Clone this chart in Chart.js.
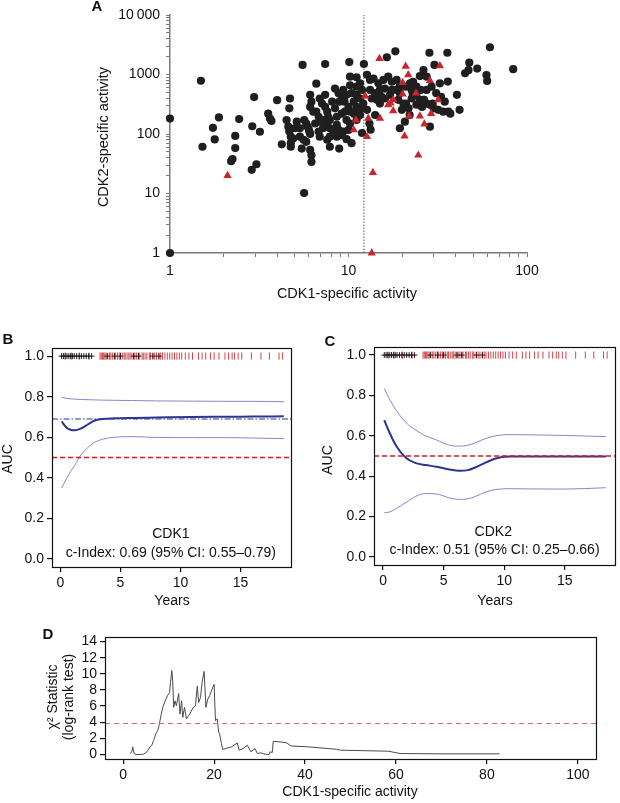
<!DOCTYPE html>
<html>
<head>
<meta charset="utf-8">
<script src="https://cdn.jsdelivr.net/npm/chart.js@4.4.1/dist/chart.umd.min.js"></script>
<style>
  html, body { margin: 0; padding: 0; background: #fff; }
  #wrap { position: relative; width: 620px; height: 803px; overflow: hidden; }
  #wrap canvas { position: absolute; left: 0; top: 0; }
</style>
</head>
<body>
<div id="wrap">
  <canvas id="chartA" width="620" height="803"></canvas>
  <canvas id="chartB" width="620" height="803"></canvas>
  <canvas id="chartC" width="620" height="803"></canvas>
  <canvas id="chartD" width="620" height="803"></canvas>
</div>
<script>
// --- A: scatter CDK1 vs CDK2 specific activity ---
const blackX = [1, 1, 1.49, 1.52, 1.74, 1.78, 1.88, 2.32, 2.32, 2.44, 2.24, 2.2, 2.87, 3.05, 2.96, 2.89, 3.19, 3.55, 3.63, 3.7, 3.98, 4.23, 5.64,
  45, 47, 47.5, 52.6, 59.3, 59.8, 62, 83.7,
  18.3, 16.4, 28.4, 35.8, 5.53, 7.4, 10.1, 12.2, 30.3, 26.3, 25.1, 22.1, 10.2, 11.1, 12.7, 13.2, 6.6,
  4.7, 4.66, 4.5, 4.6, 4.66, 4.75, 4.75, 4.75,
  6.1, 6.2, 6.1, 5.65, 5.8, 5.9, 6.0, 6.05, 6.1,
  5.34, 5.6, 5.8, 5.47, 6.1, 6.2, 6.2,
  7.6, 7.86, 8.87, 10.4, 9.75,
  6.9, 7.1, 7.4, 7.6, 7.7, 7.2, 7.6, 7.86, 8.2, 8.8, 9.35, 10,
  6.6, 6.8, 6.9,
  8.4, 8.8, 9.2, 9.75, 10.4, 11.1, 11.6,
  9.5, 10, 10.2, 10.7, 11.1, 11.6, 11.1,
  14.1, 15, 16, 17.1,
  18.6, 19.9, 21, 22.6, 24, 25.1, 26.3, 27.4, 28.6, 30, 31.8, 33.9, 36.3,
  21, 21.7, 20.7, 19.4,
  40.5, 41.9, 28.6,
  13.8, 14.7, 15.7, 16.7, 17.5, 18.6, 19.4, 15, 16, 17.5, 14.1, 13.2, 13.5, 14.4, 15.3, 19.4, 19, 20.3, 19.9,
  22.6, 24, 25.8, 23, 24, 27.4, 29.2, 31, 33, 34.6, 27.4, 32.5, 11.1, 11.9, 11.6, 10.2, 9.35, 8.9, 8.4, 8.6,
  9.15, 9.75, 10.7, 12.1, 12.7, 11.6, 6.8, 6.9, 7.86, 8.6, 9.15, 6.35, 6.5, 7.2, 5.13, 5.0, 5.34, 4.9,
  13.1, 13.3, 11.9, 22.0, 36,
  22.9, 25.4, 26.5, 29.6, 37.2, 7.4, 8.1, 9.55, 10.2, 8.6, 7.86];
const blackY = [182, 1, 785, 61, 127, 81, 190, 93, 58, 178, 38, 35, 25, 31, 417, 135, 109, 220, 182, 166, 370, 67, 10.2,
  1050, 1180, 1580, 1260, 980, 780, 2870, 1230,
  2450, 1950, 2320, 2320, 1450, 1500, 1620, 1500, 1450, 1190, 940, 710, 920, 895, 990, 810, 700,
  395, 270, 172, 133, 110, 90, 70, 61,
  455, 350, 285, 172, 150, 132, 118, 108, 100,
  90, 80, 74, 57, 54, 44, 34,
  80, 61, 57, 70, 82,
  395, 325, 285, 237, 195, 172, 142, 125, 117, 117, 110, 117,
  237, 195, 161,
  580, 485, 420, 455, 485, 455, 395,
  350, 285, 237, 220, 285, 255, 172,
  208, 325, 395, 455,
  550, 625, 625, 550, 455, 375, 375, 325, 310, 270, 255, 237, 237,
  325, 270, 161, 125,
  455, 255, 133,
  855, 710, 810, 920, 755, 810, 660, 550, 580, 550, 485, 550, 395, 375, 420, 485, 375, 325, 255,
  395, 310, 285, 755, 625, 550, 625, 485, 420, 350, 920, 710, 625, 550, 710, 660, 550, 350, 270, 195,
  220, 172, 350, 325, 255, 208, 110, 90, 90, 90, 96, 237, 150, 125, 161, 125, 125, 84,
  150, 118, 104, 208, 760,
  485, 550, 375, 325, 220, 455, 350, 237, 150, 142, 172];
const redX = [2.1, 13.5, 14.9, 32.5, 20.9, 21.6, 28.6, 20.1, 23.9, 12.4, 17.8, 20.1, 31.8, 16.7, 17.8, 21.9, 25.1, 29,
  26.6, 20.6, 24.6, 13.7, 15, 12.9, 11, 10.7, 12.7, 17.2];
const redY = [20, 1, 1850, 1400, 1370, 990, 790, 730, 485, 435, 375, 470, 375, 310, 245, 200, 200, 220,
  147, 92, 44, 22.5, 183, 183, 172, 117, 90, 330];
const cutoffCdk1 = 12.2;
const logLabels = { 1: '1', 10: '10', 100: '100', 1000: '1000', 10000: '10\u2009000' };

// --- B / C: time-dependent AUC ---
const bYears = [0.1, 0.5, 0.9, 1.2, 1.7, 2.3, 2.8, 3.5, 4.5, 6.0, 8.0, 11.0, 14.0, 16.0, 18.6];
const bAuc   = [0.678, 0.648, 0.636, 0.634, 0.643, 0.664, 0.681, 0.690, 0.693, 0.695, 0.697, 0.700, 0.701, 0.702, 0.703];
const bUpper = [0.797, 0.792, 0.789, 0.788, 0.786, 0.785, 0.784, 0.783, 0.782, 0.781, 0.779, 0.778, 0.777, 0.777, 0.775];
const bLower = [0.349, 0.395, 0.435, 0.462, 0.512, 0.550, 0.573, 0.590, 0.600, 0.603, 0.599, 0.598, 0.598, 0.596, 0.593];
const cYears = [0.1, 0.5, 1.1, 1.9, 2.7, 3.5, 4.4, 5.5, 6.3, 7.0, 7.6, 8.5, 9.3, 10.4, 12.0, 15.0, 18.4];
const cAuc   = [0.678, 0.620, 0.548, 0.490, 0.465, 0.455, 0.447, 0.433, 0.427, 0.430, 0.443, 0.468, 0.488, 0.497, 0.498, 0.498, 0.497];
const cUpper = [0.834, 0.785, 0.725, 0.665, 0.628, 0.600, 0.580, 0.553, 0.549, 0.553, 0.565, 0.587, 0.600, 0.606, 0.605, 0.602, 0.596];
const cLower = [0.219, 0.222, 0.240, 0.270, 0.300, 0.314, 0.312, 0.292, 0.285, 0.288, 0.299, 0.322, 0.334, 0.338, 0.337, 0.336, 0.343];
const cIndexB = 0.69;
const chanceAuc = 0.5;
// rug of follow-up times (events in red, censored as +)
const eventYears = [0.4, 0.9, 1.6, 2.4, 3.3, 3.4, 3.5, 3.6, 3.7, 3.8, 3.95, 4.1, 4.2, 4.35, 4.5, 4.6, 4.75, 4.9, 5.0, 5.15,
  5.3, 5.4, 5.55, 5.7, 5.8, 5.95, 6.1, 6.2, 6.35, 6.5, 6.6, 6.8, 6.9, 7.05, 7.2, 7.4, 7.5, 7.7, 7.85, 8.0, 8.2, 8.35,
  8.5, 8.7, 8.9, 9.1, 9.3, 9.5, 9.7, 9.9, 10.1, 10.4, 10.7, 11.0, 11.5, 11.8, 12.1, 12.5, 12.8, 13.2, 13.7, 14.0,
  14.3, 14.5, 14.8, 15.1, 15.9, 16.7, 17.4, 18.2, 18.5];
const censorYears = [0.1, 0.25, 0.4, 0.55, 0.7, 0.85, 1.0, 1.15, 1.35, 1.55, 1.75, 1.95, 2.15, 2.35, 2.6, 3.9, 4.5,
  5.0, 6.1, 6.5, 7.7, 8.2];

// --- D: chi-square statistic over CDK1 cut-offs ---
const dCutoff = [1.5, 1.9, 2.1, 2.4, 2.8, 3.7, 4.5, 5.2, 5.9, 6.3, 6.7, 7.2, 7.6, 7.9, 8.3, 8.7, 9.4, 9.8, 10.2, 10.4,
  10.7, 10.9, 11.1, 11.4, 11.7, 12.2, 12.5, 12.85, 13.1, 13.5, 13.9, 14.6, 15.5, 15.9, 16.3, 16.6, 17.0, 17.4, 17.8, 18.2,
  18.6, 19.0, 19.4, 20.0, 20.3, 20.7, 21.0, 21.2, 21.6, 21.9, 22.5, 23.8, 25.1, 25.5, 26.4, 27.3, 28.1, 29.0, 29.5, 30.3,
  31.2, 32.1, 32.3, 32.8, 33.0, 34.7, 36.0, 36.9, 40.8, 46.9, 47.8, 58.3, 60.9, 68.8, 82.8];
const dChi2 = [0.12, 0.33, 0.94, 0.12, 0.0, 0.0, 0.04, 0.33, 0.94, 1.14, 1.76, 2.57, 2.98, 3.6, 4.8, 5.84, 6.86, 7.35, 7.67, 8.9,
  10.4, 9.1, 5.84, 6.65, 6.04, 7.55, 5.0, 6.65, 4.6, 5.84, 4.4, 5.0, 5.9, 6.04, 8.5, 6.45, 7.06, 9.1, 10.3, 5.84,
  6.86, 7.27, 7.88, 8.7, 4.2, 4.4, 2.78, 2.57, 1.35, 0.61, 0.73, 0.94, 1.43, 0.53, 0.73, 1.14, 0.33, 0.73, 0.12, 0.2,
  0.04, 0.0, 0.33, 0.25, 1.63, 1.55, 1.43, 1.06, 0.94, 0.65, 0.53, 0.41, 0.12, 0.08, 0.08];
const chi2Critical = 3.84;

// ---------------------------------------------------------------
const FAMILY = "'Liberation Sans', Arial, Helvetica, sans-serif";
Chart.defaults.font.family = FAMILY;
Chart.defaults.font.size = 14;
Chart.defaults.color = '#111';
Chart.defaults.animation = false;
Chart.defaults.events = [];
Chart.defaults.plugins.legend.display = false;
Chart.defaults.plugins.tooltip.enabled = false;

const pts = (xs, ys) => xs.map((x, i) => ({ x, y: ys[i] }));
const rugPts = (xs, y) => xs.map(x => ({ x, y }));
const fit = size => scale => { if (scale.isHorizontal()) scale.height = size; else scale.width = size; };

// textos fixos desenhados no canvas (rótulos, títulos de eixo)
function textLayer(items) {
  return {
    id: 'textLayer',
    afterDraw(chart) {
      const ctx = chart.ctx;
      items.forEach(t => {
        const p = typeof t.at === 'function' ? t.at(chart) : t.at;
        ctx.save();
        ctx.font = t.font || `14px ${FAMILY}`;
        ctx.fillStyle = '#111';
        ctx.textAlign = 'center';
        ctx.textBaseline = 'middle';
        ctx.translate(p[0], p[1]);
        if (t.rot) ctx.rotate(t.rot);
        ctx.fillText(t.text, 0, 0);
        ctx.restore();
      });
    }
  };
}

const boxPlugin = {
  id: 'box',
  afterDatasetsDraw(chart) {
    const a = chart.chartArea, ctx = chart.ctx;
    ctx.save();
    ctx.strokeStyle = '#111';
    ctx.lineWidth = 1.2;
    ctx.strokeRect(Math.round(a.left) + 0.5, Math.round(a.top) + 0.5,
                   Math.round(a.right - a.left), Math.round(a.bottom - a.top));
    ctx.restore();
  }
};

// padding for a full-page canvas so that the plot area lands on [l,t,r,b]
const pad = (l, t, r, b, yW, xH) => ({ left: l - yW, top: t, right: 620 - r, bottom: 803 - b - xH });

// --- 1. Painel A ---
const logAxis = (min, max, size, padding) => ({
  type: 'logarithmic', min, max,
  border: { display: true, color: '#7a7a7a', width: 1.5 },
  grid: { display: true, drawOnChartArea: false, drawTicks: true, tickLength: 4, tickColor: '#7a7a7a', lineWidth: 1 },
  ticks: {
    autoSkip: false, maxRotation: 0, padding,
    callback: v => { const r = Math.round(v); return Math.abs(v - r) < 1e-6 && logLabels[r] ? logLabels[r] : ''; }
  },
  afterBuildTicks: scale => {
    // Chart.js adds a 1.5 significand tick per decade; R draws only 1..9
    scale.ticks = scale.ticks.filter(t => {
      const m = t.value / Math.pow(10, Math.floor(Math.log10(t.value) + 1e-9));
      return Math.abs(m - Math.round(m)) < 1e-6;
    });
  },
  afterFit: fit(size)
});

new Chart(document.getElementById('chartA'), {
  type: 'scatter',
  data: {
    datasets: [
      { data: pts(redX, redY), pointStyle: 'triangle', pointRadius: 4.8, backgroundColor: '#c9252c', borderWidth: 0, clip: false },
      { data: pts(blackX, blackY), pointStyle: 'circle', pointRadius: 4.1, backgroundColor: '#1f1f1f', borderWidth: 0, clip: false },
      { data: [{ x: cutoffCdk1, y: 1 }, { x: cutoffCdk1, y: 10000 }], showLine: true, pointRadius: 0,
        borderColor: '#555', borderWidth: 1, borderDash: [1.5, 1.5] }
    ]
  },
  options: {
    responsive: false, devicePixelRatio: 1,
    layout: { padding: pad(170, 15, 527, 253, 60, 30) },
    scales: { x: logAxis(1, 100, 30, 6), y: logAxis(1, 10000, 60, 6) }
  },
  plugins: [textLayer([
    { text: 'A', at: [97, 7], font: `bold 15px ${FAMILY}` },
    { text: 'CDK2-specific activity', at: [104, 137], rot: -Math.PI / 2, font: `14.5px ${FAMILY}` },
    { text: 'CDK1-specific activity', at: [347, 294], font: `14.5px ${FAMILY}` }
  ])]
});

// --- 2. Painéis B e C ---
const boxAxis = (min, max, step, fmt, size) => ({
  type: 'linear', min, max,
  border: { display: false },
  grid: { display: true, drawOnChartArea: false, drawTicks: true, tickLength: 5, tickColor: '#111', lineWidth: 1.2 },
  ticks: { stepSize: step, includeBounds: false, autoSkip: false, maxRotation: 0, padding: 3, callback: fmt },
  afterFit: fit(size)
});

function aucChart(id, area, xMin, xMax, years, auc, upper, lower, cIndex, texts) {
  const datasets = [
    { data: rugPts(censorYears, 1.0), pointStyle: 'cross', pointRadius: 3, borderColor: '#222', borderWidth: 1 },
    { data: rugPts(eventYears, 1.0), pointStyle: 'line', rotation: 90, pointRadius: 3.6, borderColor: '#d2474b', borderWidth: 1 },
    { data: [{ x: xMin, y: chanceAuc }, { x: xMax, y: chanceAuc }], showLine: true, pointRadius: 0,
      borderColor: '#cf1f26', borderWidth: 1.3, borderDash: [5, 3] },
    { data: pts(years, auc), showLine: true, pointRadius: 0, borderColor: '#2d3590', borderWidth: 2,
      cubicInterpolationMode: 'monotone' },
    { data: pts(years, upper), showLine: true, pointRadius: 0, borderColor: '#8686cc', borderWidth: 1,
      cubicInterpolationMode: 'monotone' },
    { data: pts(years, lower), showLine: true, pointRadius: 0, borderColor: '#8686cc', borderWidth: 1,
      cubicInterpolationMode: 'monotone' }
  ];
  if (cIndex !== null) {
    datasets.splice(2, 0, { data: [{ x: xMin, y: cIndex }, { x: xMax, y: cIndex }], showLine: true, pointRadius: 0,
      borderColor: '#2d3590', borderWidth: 1.1, borderDash: [6, 2, 1.5, 2] });
  }
  new Chart(document.getElementById(id), {
    type: 'scatter',
    data: { datasets },
    options: {
      responsive: false, devicePixelRatio: 1,
      layout: { padding: pad(area[0], area[1], area[2], area[3], 40, 25) },
      scales: {
        x: boxAxis(xMin, xMax, 5, v => String(Math.round(v)), 25),
        y: boxAxis(-0.04, 1.04, 0.2, v => v.toFixed(1), 40)
      }
    },
    plugins: [boxPlugin, textLayer(texts)]
  });
}

const at = (x, y) => c => [c.scales.x.getPixelForValue(x), c.scales.y.getPixelForValue(y)];

aucChart('chartB', [52, 348, 291, 567], -0.7, 19.2, bYears, bAuc, bUpper, bLower, cIndexB, [
  { text: 'B', at: [8, 339.5], font: `bold 15px ${FAMILY}` },
  { text: 'AUC', at: [8, 459], rot: -Math.PI / 2 },
  { text: 'Years', at: [172, 601] },
  { text: 'CDK1', at: at(9.2, 0.124) },
  { text: 'c-Index: 0.69 (95% CI: 0.55\u20130.79)', at: at(9.2, 0.03) }
]);

aucChart('chartC', [374, 347, 616, 565], -0.75, 19.15, cYears, cAuc, cUpper, cLower, null, [
  { text: 'C', at: [330, 342], font: `bold 15px ${FAMILY}` },
  { text: 'AUC', at: [328, 460], rot: -Math.PI / 2 },
  { text: 'Years', at: [495, 601] },
  { text: 'CDK2', at: at(9.1, 0.125) },
  { text: 'c-Index: 0.51 (95% CI: 0.25\u20130.66)', at: at(9.2, 0.035) }
]);

// --- 3. Painel D ---
new Chart(document.getElementById('chartD'), {
  type: 'scatter',
  data: {
    datasets: [
      { data: [{ x: -4, y: chi2Critical }, { x: 104, y: chi2Critical }], showLine: true, pointRadius: 0,
        borderColor: '#d9676d', borderWidth: 1, borderDash: [5, 4] },
      { data: pts(dCutoff, dChi2), showLine: true, pointRadius: 0, borderColor: '#4a4a4a', borderWidth: 1 }
    ]
  },
  options: {
    responsive: false, devicePixelRatio: 1,
    layout: { padding: pad(105, 637, 596, 759, 40, 25) },
    scales: {
      x: boxAxis(-4, 104, 20, v => String(Math.round(v)), 25),
      y: boxAxis(-0.56, 14.56, 2, v => String(Math.round(v)), 40)
    }
  },
  plugins: [boxPlugin, textLayer([
    { text: 'D', at: [48, 635], font: `bold 15px ${FAMILY}` },
    { text: '\u03C7\u00B2 Statistic', at: [53, 697], rot: -Math.PI / 2 },
    { text: '(log-rank test)', at: [69, 697], rot: -Math.PI / 2 },
    { text: 'CDK1-specific activity', at: [350, 792] }
  ])]
});
</script>
</body>
</html>
